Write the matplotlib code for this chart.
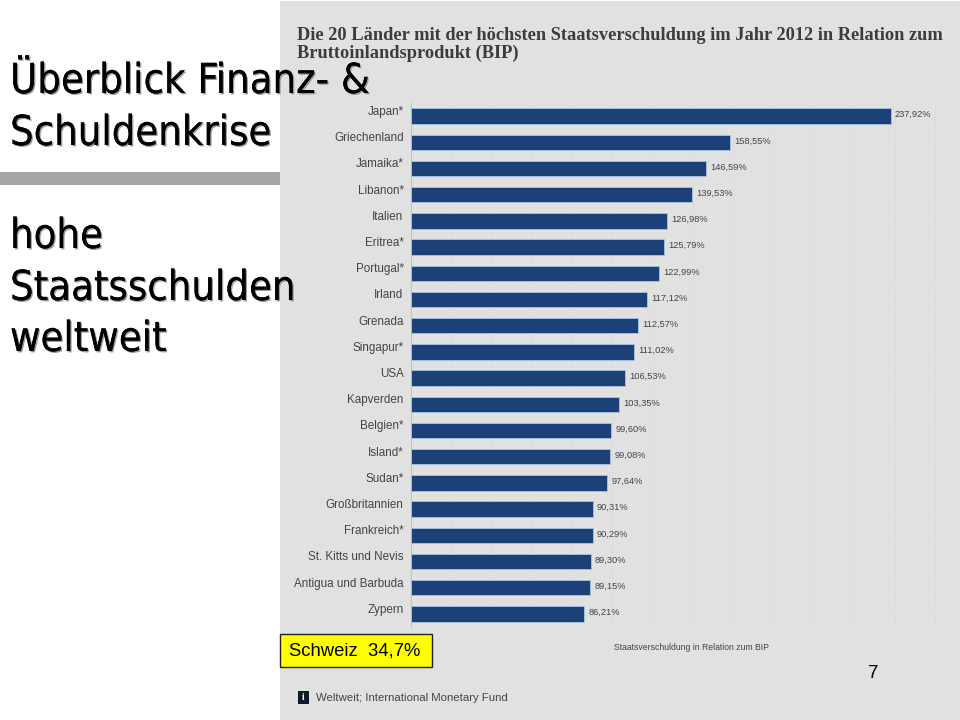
import matplotlib
matplotlib.use('Agg')
import matplotlib.pyplot as plt
import matplotlib.patheffects as pe
from matplotlib.patches import Rectangle

countries = ['Japan*', 'Griechenland', 'Jamaika*', 'Libanon*', 'Italien', 'Eritrea*', 'Portugal*',
             'Irland', 'Grenada', 'Singapur*', 'USA', 'Kapverden', 'Belgien*', 'Island*', 'Sudan*',
             'Großbritannien', 'Frankreich*', 'St. Kitts und Nevis', 'Antigua und Barbuda', 'Zypern']
values = [237.92, 158.55, 146.59, 139.53, 126.98, 125.79, 122.99, 117.12, 112.57, 111.02,
          106.53, 103.35, 99.60, 99.08, 97.64, 90.31, 90.29, 89.30, 89.15, 86.21]
grid_ticks = [20, 40, 60, 80, 100, 120, 140, 160, 180, 200, 220, 240, 260]

W, H = 960, 720
fig = plt.figure(figsize=(W / 100, H / 100), dpi=100, facecolor='white')

# page layer in pixel coords
bg = fig.add_axes([0, 0, 1, 1])
bg.set_xlim(0, W)
bg.set_ylim(H, 0)
bg.axis('off')
bg.add_patch(Rectangle((280, 1), 680, 719, fc='#e1e1e1', ec='none'))
bg.add_patch(Rectangle((0, 172), 280, 13, fc='#a6a6a6', ec='none'))

serif = ['Liberation Serif', 'DejaVu Serif']
bg.text(297, 35, 'Die 20 Länder mit der höchsten Staatsverschuldung im Jahr 2012 in Relation zum',
        family=serif, fontsize=13.25, color='#3c3c3c', va='center', fontweight='bold')
bg.text(297, 53, 'Bruttoinlandsprodukt (BIP)',
        family=serif, fontsize=13.25, color='#3c3c3c', va='center', fontweight='bold')
bg.text(692, 647, 'Staatsverschuldung in Relation zum BIP', family='Liberation Sans', fontsize=6.2,
        color='#444444', ha='center', va='center')
bg.text(316, 698, 'Weltweit; International Monetary Fund', family='Liberation Sans', fontsize=8.2,
        color='#444444', va='center')
bg.add_patch(Rectangle((298, 691), 11, 13, fc='#10182c', ec='none'))
bg.text(303.5, 697.5, 'i', family='Liberation Serif', fontsize=7, color='white',
        ha='center', va='center', fontweight='bold')

# bar chart
ax = fig.add_axes([410.5 / W, 1 - 627 / H, (940 - 410.5) / W, (627 - 103) / H])
ax.patch.set_alpha(0)
pos = list(range(len(countries)))
ax.barh(pos, values, height=0.59, color='#1c4178', edgecolor='#a9c4e4', linewidth=0.6, zorder=3)
ax.set_xlim(0, (940 - 410.5) / 2.0175)
ax.set_ylim(19.5, -0.5)
ax.set_xticks(grid_ticks)
ax.tick_params(axis='x', length=0, labelbottom=False)
ax.grid(axis='x', color='#d6d6d6', linestyle=':', linewidth=0.7, zorder=0)
ax.set_yticks(pos)
ax.set_yticklabels([])
ax.tick_params(axis='y', length=0)
for s in ['top', 'right', 'bottom']:
    ax.spines[s].set_visible(False)
ax.spines['left'].set_color('#c4c4c4')
for name, y in zip(countries, pos):
    ax.annotate(name, (0, y), xytext=(-5, 3), textcoords='offset points', ha='right',
                family='Liberation Sans', fontsize=8.4, color='#444444', va='center')
for v, y in zip(values, pos):
    ax.annotate(f'{v:.2f}%'.replace('.', ','), (v, y), xytext=(3, 1), textcoords='offset points',
                family='Liberation Sans', fontsize=6.7, color='#444444', va='center', zorder=4)

# slide text on top
top = fig.add_axes([0, 0, 1, 1], zorder=5)
top.set_xlim(0, W)
top.set_ylim(H, 0)
top.axis('off')
shadow = [pe.withSimplePatchShadow(offset=(1, -1), shadow_rgbFace='#9a9a9a', alpha=1), pe.Normal()]
slide_lines = [('Überblick Finanz- &', 82), ('Schuldenkrise', 134), ('hohe', 237),
               ('Staatsschulden', 289), ('weltweit', 340)]
for txt, y in slide_lines:
    top.text(10, y, txt, family='DejaVu Sans', fontsize=29.8, color='black', va='center',
             path_effects=shadow, stretch='condensed')
top.add_patch(Rectangle((279.5, 633.5), 152, 33, fc='#ffff00', ec='#222222', lw=1))
top.text(289, 651.5, 'Schweiz  34,7%', family='Liberation Sans', fontsize=13.3, color='black', va='center')
top.text(873, 673, '7', family='Liberation Sans', fontsize=13.5, color='black', ha='center', va='center')

fig.savefig('out.png', dpi=100)
